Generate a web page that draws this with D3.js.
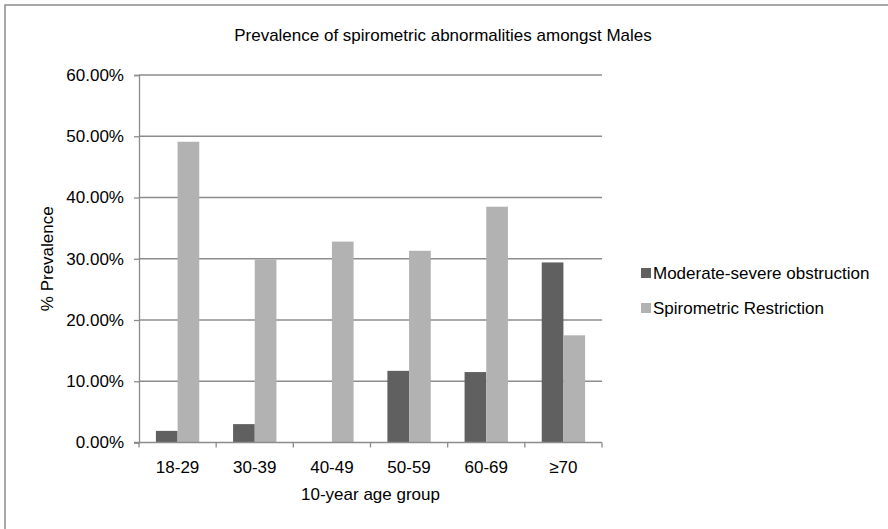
<!DOCTYPE html>
<html>
<head>
<meta charset="utf-8">
<script src="https://cdn.jsdelivr.net/npm/d3@7"></script>
<style>
  body { margin: 0; background: #fff; }
  text { font-family: "Liberation Sans", Arial, sans-serif; fill: #000; }
</style>
</head>
<body>
<div id="chart"></div>
<script>
var width = 888;
var height = 529;

var ageGroups = ['18-29', '30-39', '40-49', '50-59', '60-69', '\u226570'];
var seriesNames = ['Moderate-severe obstruction', 'Spirometric Restriction'];
var obstruction = [0.019, 0.030, 0.0, 0.117, 0.115, 0.294];
var restriction = [0.491, 0.299, 0.328, 0.313, 0.385, 0.175];
var yTicks = [0, 0.1, 0.2, 0.3, 0.4, 0.5, 0.6];
var colors = ['#606060', '#b2b2b2'];

var fontSize = '17px';
var margin = { top: 75, left: 139 };
var chartWidth = 463;
var chartHeight = 367.5;

var svg = d3.select('#chart').append('svg')
    .attr('width', width)
    .attr('height', height);

// outer frame
svg.append('rect')
    .attr('x', 5).attr('y', 5)
    .attr('width', 900).attr('height', 600)
    .attr('fill', 'none')
    .attr('stroke', '#8c8c8c')
    .attr('stroke-width', 1.5);

svg.append('text')
    .attr('x', 443).attr('y', 41)
    .attr('text-anchor', 'middle')
    .style('font-size', fontSize)
    .text('Prevalence of spirometric abnormalities amongst Males');

var g = svg.append('g')
    .attr('transform', `translate(${margin.left}, ${margin.top})`);

var xScale = d3.scaleBand()
    .domain(ageGroups)
    .range([0, chartWidth]);

var xInner = d3.scaleBand()
    .domain([0, 1])
    .range([0, xScale.bandwidth()])
    .paddingInner(0)
    .paddingOuter(0.78);

var yScale = d3.scaleLinear()
    .domain([0, 0.6])
    .range([chartHeight, 0]);

// gridlines
g.append('g')
    .selectAll('line')
    .data(yTicks.slice(1))
    .enter()
    .append('line')
    .attr('x1', 0).attr('x2', chartWidth)
    .attr('y1', d => yScale(d)).attr('y2', d => yScale(d))
    .attr('stroke', '#8c8c8c')
    .attr('stroke-width', 1.3);

// bars
var groups = g.selectAll('.grp')
    .data(ageGroups)
    .enter()
    .append('g')
    .attr('transform', d => `translate(${xScale(d)}, 0)`);

[obstruction, restriction].forEach(function (values, s) {
    groups.append('rect')
        .attr('x', xInner(s))
        .attr('width', xInner.bandwidth())
        .attr('y', (d, i) => yScale(values[i]))
        .attr('height', (d, i) => chartHeight - yScale(values[i]))
        .attr('fill', colors[s]);
});

// y axis
var yAxis = d3.axisLeft(yScale)
    .tickValues(yTicks)
    .tickSize(5)
    .tickPadding(10)
    .tickFormat(d3.format('.2%'));

var yAxis_g = g.append('g').call(yAxis);
yAxis_g.select('.domain').attr('stroke', '#8c8c8c').attr('stroke-width', 1.3);
yAxis_g.selectAll('.tick line').attr('stroke', '#8c8c8c').attr('stroke-width', 1.3);
yAxis_g.selectAll('text').style('font-size', fontSize).style('font-family', '"Liberation Sans", Arial, sans-serif').attr('fill', '#000');

// x axis with ticks on band boundaries
var xAxis_g = g.append('g')
    .attr('transform', `translate(0, ${chartHeight})`);

xAxis_g.append('line')
    .attr('x1', -5).attr('x2', chartWidth)
    .attr('stroke', '#8c8c8c').attr('stroke-width', 1.3);

xAxis_g.selectAll('.bt')
    .data(ageGroups.concat(['end']))
    .enter()
    .append('line')
    .attr('x1', (d, i) => i * xScale.step())
    .attr('x2', (d, i) => i * xScale.step())
    .attr('y1', 0).attr('y2', 5)
    .attr('stroke', '#8c8c8c').attr('stroke-width', 1.3);

xAxis_g.selectAll('.lbl')
    .data(ageGroups)
    .enter()
    .append('text')
    .attr('x', d => xScale(d) + xScale.bandwidth() / 2)
    .attr('y', 30)
    .attr('text-anchor', 'middle')
    .style('font-size', fontSize)
    .text(d => d);

g.append('text')
    .attr('x', chartWidth / 2)
    .attr('y', chartHeight + 57)
    .attr('text-anchor', 'middle')
    .style('font-size', fontSize)
    .text('10-year age group');

svg.append('text')
    .attr('transform', `translate(53, ${margin.top + chartHeight / 2}) rotate(-90)`)
    .attr('text-anchor', 'middle')
    .style('font-size', fontSize)
    .text('% Prevalence');

// legend
var legend = svg.append('g')
    .attr('transform', 'translate(641, 268)');

seriesNames.forEach(function (name, i) {
    legend.append('rect')
        .attr('x', 0).attr('y', i * 35)
        .attr('width', 10).attr('height', 10)
        .attr('fill', colors[i]);
    legend.append('text')
        .attr('x', 12).attr('y', i * 35 + 11)
        .style('font-size', fontSize)
        .text(name);
});
</script>
</body>
</html>
